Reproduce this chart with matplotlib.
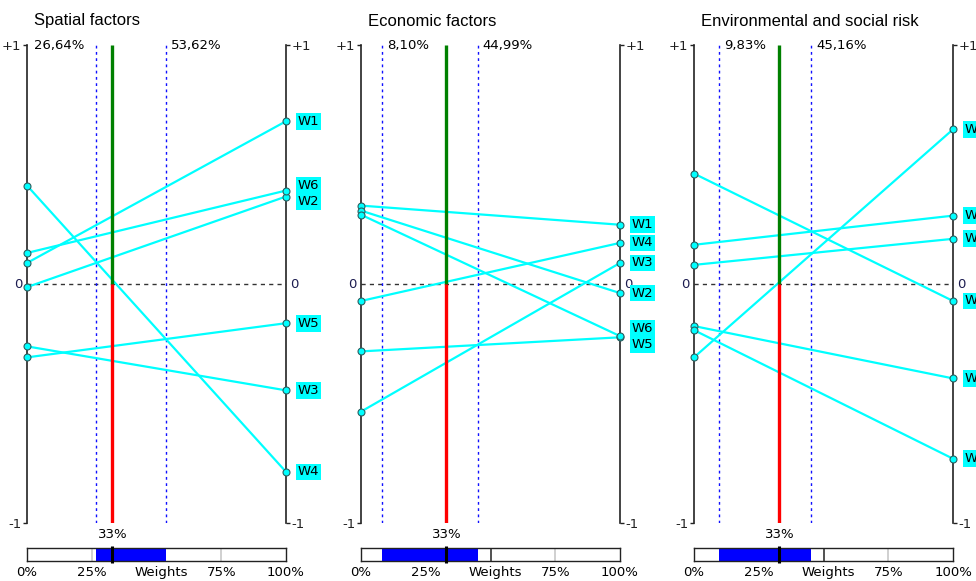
import matplotlib.pyplot as plt

W, H = 976, 581

titles = ["Spatial factors", "Economic factors", "Environmental and social risk"]
names = ["W1", "W2", "W3", "W4", "W5", "W6"]

# current weight and its stability interval, in %
weights = [33, 33, 33]
lower = [26.64, 8.10, 9.83]
upper = [53.62, 44.99, 45.16]
lower_txt = ["26,64%", "8,10%", "9,83%"]
upper_txt = ["53,62%", "44,99%", "45,16%"]

# utility of each alternative when the criterion weight is 0% / 100%
spatial_at0 = [0.088, -0.013, -0.261, 0.412, -0.307, 0.130]
spatial_at100 = [0.681, 0.366, -0.445, -0.786, -0.164, 0.391]
economic_at0 = [0.328, 0.307, -0.534, -0.071, -0.282, 0.290]
economic_at100 = [0.248, -0.038, 0.088, 0.172, -0.223, -0.218]
env_at0 = [-0.307, 0.164, 0.080, 0.462, -0.176, -0.193]
env_at100 = [0.647, 0.286, 0.189, -0.071, -0.395, -0.731]

at0 = [spatial_at0, economic_at0, env_at0]
at100 = [spatial_at100, economic_at100, env_at100]

LINE = "#00ffff"
TXT = 9.5


def spread(vals, gap):
    # push label positions apart so the boxes don't overlap
    order = sorted(range(len(vals)), key=lambda i: -vals[i])
    pos = [vals[i] for i in order]
    for _ in range(100):
        moved = False
        for k in range(len(pos) - 1):
            d = pos[k] - pos[k + 1]
            if d < gap - 1e-9:
                s = (gap - d) / 2
                pos[k] += s
                pos[k + 1] -= s
                moved = True
        if not moved:
            break
    out = [0.0] * len(vals)
    for k, i in enumerate(order):
        out[i] = pos[k]
    return out


fig = plt.figure(figsize=(W / 100, H / 100), dpi=100)
fig.patch.set_facecolor("white")

lefts = [27, 361, 694]
pw = 259
top, bottom = 45, 523

for p in range(3):
    x0 = lefts[p]
    ax = fig.add_axes([x0 / W, 1 - bottom / H, pw / W, (bottom - top) / H])
    ax.set_xlim(0, 1)
    ax.set_ylim(-1, 1)
    for s in ["top", "bottom"]:
        ax.spines[s].set_visible(False)
    for s in ["left", "right"]:
        ax.spines[s].set_color("#222222")
        ax.spines[s].set_linewidth(1.2)
    ax.set_xticks([])
    ax.set_yticks([-1, 1])
    ax.set_yticklabels(["-1", "+1"])
    ax.tick_params(axis="y", left=True, right=True, labelleft=True, labelright=True,
                   length=3, width=1, pad=1, labelsize=TXT, colors="#222222")
    ax.text(-0.018, 0, "0", ha="right", va="center", fontsize=TXT, color="#1c1c50")
    ax.text(1.014, 0, "0", ha="left", va="center", fontsize=TXT, color="#1c1c50")

    fig.text((x0 + 7) / W, 1 - 21 / H, titles[p], ha="left", va="center",
             fontsize=12, family="Liberation Sans")

    # zero line and stability interval
    ax.plot([0, 1], [0, 0], color="#333333", lw=1, ls=(0, (3, 3)), zorder=1)
    lo, hi, w = lower[p] / 100, upper[p] / 100, weights[p] / 100
    for v in (lo, hi):
        ax.plot([v, v], [-1, 1], color="#1010ff", lw=1, ls=(0, (2, 2.5)), zorder=1)
    if w - lo > 0.2:
        ax.annotate(lower_txt[p], xy=(lo, 1), xytext=(5, 0), textcoords="offset pixels",
                    ha="left", va="center", fontsize=TXT)
    else:
        ax.annotate(lower_txt[p], xy=(0, 1), xytext=(7, 0), textcoords="offset pixels",
                    ha="left", va="center", fontsize=TXT)
    ax.annotate(upper_txt[p], xy=(hi, 1), xytext=(5, 0), textcoords="offset pixels",
                ha="left", va="center", fontsize=TXT)

    # alternatives
    a0, a1 = at0[p], at100[p]
    for i in range(len(names)):
        ax.plot([0, 1], [a0[i], a1[i]], color=LINE, lw=1.6, zorder=2, clip_on=False)
        ax.plot([0, 1], [a0[i], a1[i]], ls="none", marker="o", ms=5, mfc=LINE,
                mec="#2b5f60", mew=0.8, zorder=5, clip_on=False)
    lab = spread(a1, 16 / 239)
    for i in range(len(names)):
        ax.annotate(names[i], xy=(1, lab[i]), xytext=(12, 0), textcoords="offset pixels",
                    ha="left", va="center", fontsize=TXT, annotation_clip=False,
                    bbox=dict(boxstyle="square,pad=0.14", fc=LINE, ec="none"))

    # current weight
    ax.plot([w, w], [0, 1], color="#008000", lw=2.4, zorder=3, solid_capstyle="butt")
    ax.plot([w, w], [-1, 0], color="#ff0000", lw=2.4, zorder=3, solid_capstyle="butt")
    ax.annotate(f"{weights[p]}%", xy=(w, -1), xytext=(0, -12), textcoords="offset pixels",
                ha="center", va="center", fontsize=TXT, annotation_clip=False)

    # weight bar
    bx = fig.add_axes([x0 / W, 1 - 561 / H, pw / W, 13 / H])
    bx.set_xlim(0, 100)
    bx.set_ylim(0, 1)
    bx.set_xticks([])
    bx.set_yticks([])
    for s in bx.spines.values():
        s.set_color("#222222")
        s.set_linewidth(1)
    for t, c in ((25, "#c8c8c8"), (50, "#333333"), (75, "#c8c8c8")):
        bx.plot([t, t], [0, 1], color=c, lw=1.2, zorder=1)
    bx.barh(0.5, upper[p] - lower[p], left=lower[p], height=1, color="#0000ff", zorder=2)
    bx.plot([weights[p], weights[p]], [-0.15, 1.15], color="black", lw=2.2, zorder=3,
            clip_on=False, solid_capstyle="butt")
    for t, s in ((0, "0%"), (25, "25%"), (52, "Weights"), (75, "75%"), (100, "100%")):
        bx.text(t, -0.85, s, ha="center", va="center", fontsize=TXT)

fig.savefig("out.png", dpi=100)
